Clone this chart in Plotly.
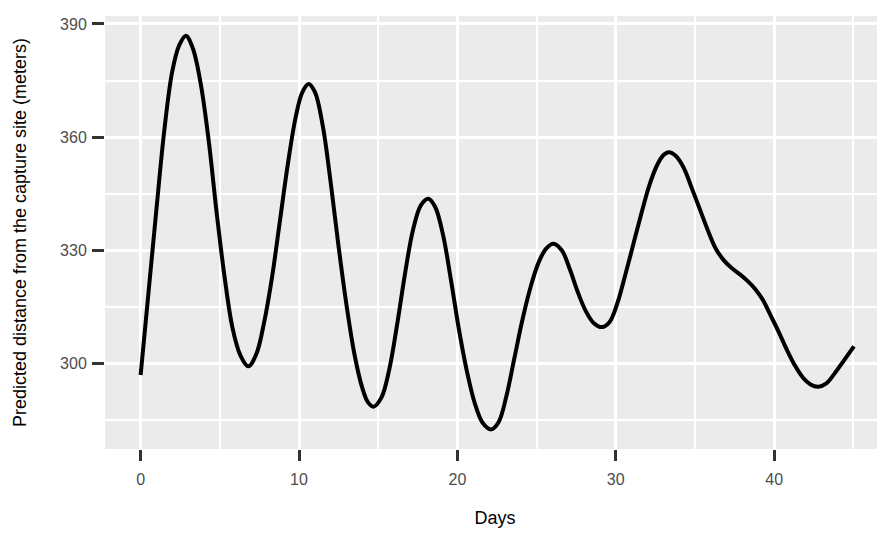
import plotly.graph_objects as go

days = [0, 0.5, 1.0, 1.5, 2.0, 2.45, 2.86,
        3.3, 3.8, 4.3, 4.8, 5.3, 5.8, 6.3, 6.8,
        7.3, 7.8, 8.3, 8.8, 9.3, 9.8, 10.2, 10.6,
        11.0, 11.5, 12.0, 12.5, 13.0, 13.5, 14.0, 14.35, 14.7,
        15.2, 15.7, 16.2, 16.7, 17.2, 17.7, 18.17,
        18.6, 19.1, 19.6, 20.1, 20.6, 21.1, 21.6, 22.14,
        22.6, 23.1, 23.6, 24.1, 24.6, 25.1, 25.6, 26.07,
        26.6, 27.1, 27.6, 28.1, 28.6, 29.13,
        29.6, 30.1, 30.6, 31.1, 31.6, 32.1, 32.6, 33.0, 33.34,
        33.8, 34.3, 34.8, 35.3, 35.8, 36.3, 36.8, 37.3, 37.8, 38.3, 38.8,
        39.3, 39.8, 40.3, 40.8, 41.3, 41.8, 42.3, 42.78,
        43.3, 43.8, 44.4, 45.04]
distance = [297, 319, 341, 362, 377.5, 384.5, 386.9,
            383.5, 374, 359, 340, 323, 309.5, 302.2, 299.3,
            302.5, 311, 323, 338, 353, 365.5, 371.8, 374.1,
            372, 363, 348, 331, 315.5, 302.5, 293.5, 289.8, 288.6,
            291, 298.5, 310.5, 324, 335.5, 342, 343.7,
            341.5, 334, 322, 309, 298, 289.5, 284.3, 282.6,
            284.5, 291.5, 301.5, 311.5, 320, 326.5, 330.5, 331.8,
            330, 325, 319, 314, 310.8, 309.7,
            311, 316, 323.5, 331.5, 339.5, 347, 352.5, 355.2, 356,
            355, 351.8, 346.5, 341, 335.5, 330.6, 327.5, 325.4, 323.8, 322, 319.8,
            316.8, 312.6, 308.3, 303.7, 299.6, 296.4, 294.5, 293.9,
            294.8, 297.3, 300.8, 304.6]

x_ticks = [0, 10, 20, 30, 40]
y_ticks = [300, 330, 360, 390]

fig = go.Figure(go.Scatter(
    x=days, y=distance, mode="lines",
    line=dict(color="black", width=4, shape="spline", smoothing=1.0),
    showlegend=False, hoverinfo="skip"))

font = "Liberation Sans, Arial, sans-serif"
fig.update_layout(
    width=877, height=525,
    margin=dict(l=97, r=0, t=8, b=84),
    paper_bgcolor="white", plot_bgcolor="#EBEBEB",
    font=dict(family=font, color="black"),
    xaxis=dict(
        range=[-2.25, 47.0], tickvals=x_ticks, ticktext=[str(v) for v in x_ticks],
        showgrid=True, gridcolor="white", gridwidth=3,
        minor=dict(dtick=5, tick0=0, showgrid=True, gridcolor="white", gridwidth=1.5),
        ticks="outside", ticklen=11, tickwidth=3, tickcolor="#333333",
        tickfont=dict(size=16, color="#4d4d4d", family=font),
        ticklabelstandoff=5,
        zeroline=False, showline=False,
        title=dict(text="Days", font=dict(size=18, color="black", family=font), standoff=24),
    ),
    yaxis=dict(
        range=[277.4, 392.1], tickvals=y_ticks, ticktext=[str(v) for v in y_ticks],
        showgrid=True, gridcolor="white", gridwidth=3,
        minor=dict(dtick=15, tick0=285, showgrid=True, gridcolor="white", gridwidth=1.5),
        ticks="outside", ticklen=12, tickwidth=3, tickcolor="#333333",
        tickfont=dict(size=16, color="#4d4d4d", family=font),
        ticklabelstandoff=2,
        zeroline=False, showline=False,
        title=dict(text="Predicted distance from the capture site (meters)",
                   font=dict(size=18, color="black", family=font), standoff=28),
    ),
)

fig.write_html("out.html")
